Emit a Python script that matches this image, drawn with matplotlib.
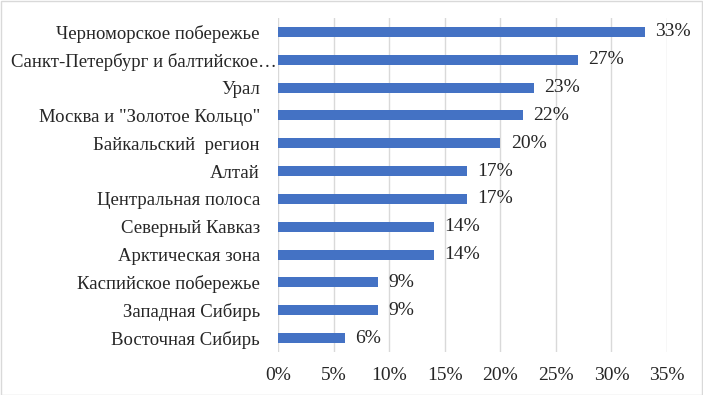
import matplotlib.pyplot as plt
import matplotlib.transforms as mtransforms
from matplotlib.ticker import FuncFormatter

regions = [
    "Черноморское побережье",
    "Санкт-Петербург и балтийское…",
    "Урал",
    "Москва и \"Золотое Кольцо\"",
    "Байкальский  регион",
    "Алтай",
    "Центральная полоса",
    "Северный Кавказ",
    "Арктическая зона",
    "Каспийское побережье",
    "Западная Сибирь",
    "Восточная Сибирь",
]
shares = [33, 27, 23, 22, 20, 17, 17, 14, 14, 9, 9, 6]

plt.rcParams['font.family'] = ['Liberation Serif', 'DejaVu Serif']

fig = plt.figure(figsize=(7.03, 3.95), dpi=100)
ax = fig.add_axes([0.3954, 0.1089, 0.9488 - 0.3954, 0.9544 - 0.1089])

ypos = list(range(len(regions)))[::-1]
ax.barh(ypos, shares, height=0.36, color='#4472C4', zorder=3)

for y, v in zip(ypos, shares):
    ax.annotate(f"{v}%", (v, y), xytext=(7.5, 0), textcoords='offset points',
                va='center', ha='left', fontsize=14, color='#262626')

ax.set_xlim(0, 35)
ax.set_ylim(-0.5, len(regions) - 0.5)
ax.set_xticks(range(0, 36, 5))
ax.xaxis.set_major_formatter(FuncFormatter(lambda x, p: f"{int(x)}%"))
ax.set_yticks(ypos)
ax.set_yticklabels(regions, fontsize=13.5)
ax.tick_params(axis='both', length=0, labelcolor='#262626')
ax.tick_params(axis='x', pad=11, labelsize=14)
ax.tick_params(axis='y', pad=13)
ax.grid(axis='x', color='#D9D9D9', linewidth=1, zorder=0)
for s in ax.spines.values():
    s.set_visible(False)

# the truncated label sits closer to the axis, like in the original
lab = ax.get_yticklabels()[1]
lab.set_transform(lab.get_transform() + mtransforms.ScaledTranslation(17 / 100, 0, fig.dpi_scale_trans))

fig.patches.append(plt.Rectangle((0.001, 0.001), 0.998, 0.997, transform=fig.transFigure,
                                 fill=False, edgecolor='#D9D9D9', linewidth=1))

fig.savefig("out.png", dpi=100)
